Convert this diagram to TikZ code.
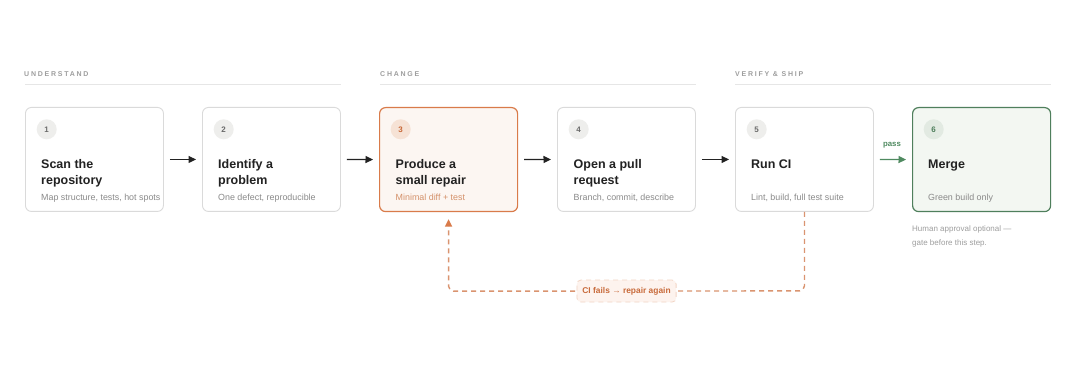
\documentclass[tikz,border=0pt]{standalone}
\usepackage{fontspec}
\setmainfont{Liberation Sans}
\newfontfamily\trackfont[LetterSpace=25]{Liberation Sans}
\usetikzlibrary{arrows.meta,calc}
\definecolor{ink}{HTML}{222222}
\definecolor{subgray}{HTML}{8A8A8A}
\definecolor{cardline}{HTML}{DADADA}
\definecolor{dotgray}{HTML}{EEEEEC}
\definecolor{numgray}{HTML}{6A6A6A}
\definecolor{seclabel}{HTML}{9E9E9E}
\definecolor{secline}{HTML}{E6E6E6}
\definecolor{orline}{HTML}{D97B4A}
\definecolor{orfill}{HTML}{FCF6F2}
\definecolor{ordot}{HTML}{F6E2D5}
\definecolor{ornum}{HTML}{C86A3A}
\definecolor{orsub}{HTML}{D4916A}
\definecolor{ordash}{HTML}{DA9470}
\definecolor{orlabfill}{HTML}{FDF3EE}
\definecolor{orlabline}{HTML}{F2D5C5}
\definecolor{grline}{HTML}{4F7F5C}
\definecolor{grfill}{HTML}{F3F7F2}
\definecolor{grdot}{HTML}{E2EAE2}
\definecolor{grarrow}{HTML}{4F8A60}
\definecolor{notegray}{HTML}{9E9E9E}
\begin{document}
\begin{tikzpicture}[x=1pt,y=-1pt,
  card/.style={draw=cardline, line width=0.9pt, fill=white, rounded corners=6pt,
    minimum width=138pt, minimum height=104pt, inner sep=0pt, anchor=north west},
  cardor/.style={card, draw=orline, fill=orfill, line width=1.2pt},
  cardgr/.style={card, draw=grline, fill=grfill, line width=1.2pt},
  numdot/.style={circle, minimum size=20pt, inner sep=0pt, fill=dotgray, text=numgray,
    font=\fontsize{8}{9}\selectfont\bfseries},
  numdotor/.style={numdot, fill=ordot, text=ornum},
  numdotgr/.style={numdot, fill=grdot, text=grline},
  title/.style={anchor=north west, inner sep=0pt, align=left, text=ink,
    font=\fontsize{12.5}{16}\selectfont\bfseries},
  sub/.style={anchor=base west, inner sep=0pt, text=subgray, font=\fontsize{8.9}{10}\selectfont},
  secname/.style={anchor=west, inner sep=0pt, text=seclabel, font=\fontsize{7}{8}\selectfont\trackfont\bfseries},
  secrule/.style={draw=secline, line width=0.9pt},
  flow/.style={draw=ink, line width=1.2pt, shorten <=6pt, shorten >=6pt,
    -{Triangle[length=7.5pt,width=7pt]}},
  flowgr/.style={flow, draw=grarrow, -{Triangle[length=7.5pt,width=7pt,color=grarrow]}},
  loopline/.style={draw=ordash, line width=1.4pt, dash pattern=on 5pt off 4pt,
    rounded corners=5pt, -{Triangle[length=7.5pt,width=7pt,color=orline]}},
  fixlabel/.style={draw=orlabline, fill=orlabfill, line width=0.8pt, rounded corners=4pt,
    minimum height=22pt, inner xsep=5.5pt, inner ysep=0pt, text=ornum,
    font=\fontsize{8.4}{10}\selectfont\bfseries},
  note/.style={anchor=north west, inner sep=0pt, align=left, text=notegray,
    font=\fontsize{8}{14}\selectfont},
  passlabel/.style={anchor=base, inner sep=0pt, text=grarrow, font=\fontsize{7.8}{9}\selectfont\bfseries}
]
\fill[white] (0,0) rectangle (1080,390);
\useasboundingbox (0,0) rectangle (1080,390);

% section headers
\node[secname] (h1) at (24,74.3) {UNDERSTAND};
\node[secname] (h2) at (380,74.3) {CHANGE};
\node[secname] (h3) at (735,74.3) {VERIFY \& SHIP};
\coordinate (r1a) at (25,84.3);  \coordinate (r1b) at (341,84.3);
\coordinate (r2a) at (380,84.3); \coordinate (r2b) at (696,84.3);
\coordinate (r3a) at (735,84.3); \coordinate (r3b) at (1051,84.3);
\draw[secrule] (r1a) -- (r1b);
\draw[secrule] (r2a) -- (r2b);
\draw[secrule] (r3a) -- (r3b);

% cards
\node[card]   (b1) at (25,107) {};
\node[card]   (b2) at (202,107) {};
\node[cardor] (b3) at (379,107) {};
\node[card]   (b4) at (557,107) {};
\node[card]   (b5) at (735,107) {};
\node[cardgr] (b6) at (912,107) {};

% number dots
\node[numdot]   (n1) at (46.7,129.3) {1};
\node[numdot]   (n2) at (223.7,129.3) {2};
\node[numdotor] (n3) at (400.7,129.3) {3};
\node[numdot]   (n4) at (578.7,129.3) {4};
\node[numdot]   (n5) at (756.7,129.3) {5};
\node[numdotgr] (n6) at (933.7,129.3) {6};

% titles
\node[title] (t1) at (41,158.5) {\rule{0pt}{10pt}Scan the\\repository};
\node[title] (t2) at (218,158.5) {\rule{0pt}{10pt}Identify a\\problem};
\node[title] (t3) at (395.5,158.5) {\rule{0pt}{10pt}Produce a\\small repair};
\node[title] (t4) at (573.5,158.5) {\rule{0pt}{10pt}Open a pull\\request};
\node[title] (t5) at (751,158.5) {\rule{0pt}{10pt}Run CI};
\node[title] (t6) at (928,158.5) {\rule{0pt}{10pt}Merge};

% subtitles
\node[sub] (s1) at (41,201) {Map structure, tests, hot spots};
\node[sub] (s2) at (218,201) {One defect, reproducible};
\node[sub, text=orsub] (s3) at (395.5,201) {Minimal diff + test};
\node[sub] (s4) at (573.5,201) {Branch, commit, describe};
\node[sub] (s5) at (751,201) {Lint, build, full test suite};
\node[sub] (s6) at (928,201) {Green build only};

% flow arrows
\draw[flow] (b1.east) -- (b2.west);
\draw[flow] (b2.east) -- (b3.west);
\draw[flow] (b3.east) -- (b4.west);
\draw[flow] (b4.east) -- (b5.west);
\draw[flowgr] (b5.east) -- (b6.west);
\node[passlabel] (pass) at (892,147) {pass};

% note
\node[note] (note) at (912,225.5) {\rule{0pt}{6pt}Human approval optional —\\gate before this step.};

% retry loop
\coordinate (tip) at ($(b3.south)+(0,7)$);
\coordinate (loopR) at ($(b5.south)+(0,79)$);
\coordinate (loopL) at ($(b3.south)+(0,79)$);
\draw[loopline] (b5.south) -- (loopR) -- node[fixlabel] (fix) {CI fails → repair again} (loopL) -- (tip);
\end{tikzpicture}
\end{document}
